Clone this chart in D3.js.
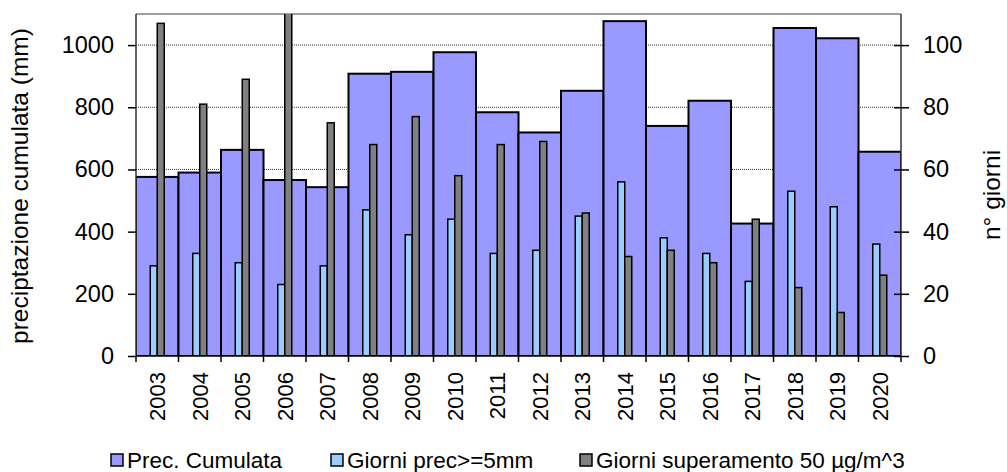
<!DOCTYPE html>
<html>
<head>
<meta charset="utf-8">
<script src="https://cdn.jsdelivr.net/npm/d3@7"></script>
<style>
  body { margin: 0; background: #fff; }
  svg { display: block; font-family: "Liberation Sans", Arial, sans-serif; }
</style>
</head>
<body>
<div id="chart"></div>
<script>
// Data.
const years = ["2003", "2004", "2005", "2006", "2007", "2008", "2009", "2010", "2011",
               "2012", "2013", "2014", "2015", "2016", "2017", "2018", "2019", "2020"];
// precipitazione cumulata (mm), left axis
const precCumulata = [576, 590, 663, 566, 543, 908, 914, 977, 784,
                      719, 853, 1077, 740, 821, 426, 1055, 1022, 657];
// giorni con prec >= 5mm, right axis
const giorniPrec = [29, 33, 30, 23, 29, 47, 39, 44, 33,
                    34, 45, 56, 38, 33, 24, 53, 48, 36];
// giorni superamento 50 ug/m^3, right axis
const giorniSuper = [107, 81, 89, 115, 75, 68, 77, 58, 68,
                     69, 46, 32, 34, 30, 44, 22, 14, 26];

const leftTicks = [0, 200, 400, 600, 800, 1000];
const rightTicks = [0, 20, 40, 60, 80, 100];
const legendLabels = ["Prec. Cumulata", "Giorni prec>=5mm", "Giorni superamento 50 \u00b5g/m^3"];
const colors = ["#9999ff", "#99ccff", "#808080"];

const W = 1007, H = 472;
const plot = { left: 136, right: 901, top: 14, bottom: 356 };
const fsTick = 23.5, fsTitle = 24.5, fsLegend = 22.5, fsYear = 22;

const svg = d3.select("#chart").append("svg")
    .attr("width", W).attr("height", H);

const x = d3.scaleBand().domain(years).range([plot.left, plot.right]).padding(0);
const yL = d3.scaleLinear().domain([0, 1100]).range([plot.bottom, plot.top]);
const yR = d3.scaleLinear().domain([0, 110]).range([plot.bottom, plot.top]);

svg.append("clipPath").attr("id", "clip")
  .append("rect")
    .attr("x", plot.left).attr("y", plot.top)
    .attr("width", plot.right - plot.left).attr("height", plot.bottom - plot.top);

// gridlines (dotted)
svg.append("g").selectAll("line")
  .data(leftTicks.filter(d => d > 0))
  .join("line")
    .attr("x1", plot.left).attr("x2", plot.right)
    .attr("y1", d => yL(d)).attr("y2", d => yL(d))
    .attr("stroke", "#333").attr("stroke-width", 1)
    .attr("stroke-dasharray", "1,1");

// top border of the plot area
svg.append("line")
    .attr("x1", plot.left).attr("x2", plot.right)
    .attr("y1", plot.top).attr("y2", plot.top)
    .attr("stroke", "#a0a0a0").attr("stroke-width", 2);

const bars = svg.append("g").attr("clip-path", "url(#clip)");

// wide bars: precipitazione cumulata
bars.append("g").selectAll("rect")
  .data(precCumulata)
  .join("rect")
    .attr("x", (d, i) => x(years[i]))
    .attr("y", d => yL(d))
    .attr("width", x.bandwidth())
    .attr("height", d => plot.bottom - yL(d))
    .attr("fill", colors[0])
    .attr("stroke", "#000").attr("stroke-width", 2);

// narrow bars on the secondary axis
const barW = 7;
const inner = d3.scaleBand().domain([0, 1]).range([-barW, barW]);

[giorniPrec, giorniSuper].forEach((series, k) => {
  bars.append("g").selectAll("rect")
    .data(series)
    .join("rect")
      .attr("x", (d, i) => x(years[i]) + x.bandwidth() / 2 + inner(k))
      .attr("y", d => yR(d))
      .attr("width", inner.bandwidth())
      .attr("height", d => plot.bottom - yR(d))
      .attr("fill", colors[k + 1])
      .attr("stroke", "#000").attr("stroke-width", 1.5);
});

// left axis
const axL = svg.append("g")
    .attr("transform", `translate(${plot.left},0)`)
    .call(d3.axisLeft(yL).tickValues(leftTicks).tickFormat(d3.format("d"))
      .tickSize(8).tickSizeOuter(0).tickPadding(14));
axL.select(".domain").attr("stroke", "#333").attr("stroke-width", 1.5)
    .attr("d", `M0,${plot.top}V${plot.bottom}`);
axL.selectAll(".tick line").attr("stroke", "#000").attr("stroke-width", 1.5);
axL.selectAll("text").attr("font-size", fsTick).attr("fill", "#000")
    .attr("font-family", "Liberation Sans, Arial, sans-serif");

// right axis
const axR = svg.append("g")
    .attr("transform", `translate(${plot.right},0)`)
    .call(d3.axisRight(yR).tickValues(rightTicks).tickFormat(d3.format("d"))
      .tickSize(8).tickSizeOuter(0).tickPadding(14));
axR.select(".domain").attr("stroke", "#333").attr("stroke-width", 1.5)
    .attr("d", `M0,${plot.top}V${plot.bottom}`);
axR.selectAll(".tick line").attr("x1", -7).attr("stroke", "#000").attr("stroke-width", 1.5);
axR.selectAll("text").attr("font-size", fsTick).attr("fill", "#000")
    .attr("font-family", "Liberation Sans, Arial, sans-serif");

// x axis: ticks on category boundaries, labels rotated
const axX = svg.append("g").attr("transform", `translate(0,${plot.bottom})`);
axX.append("line")
    .attr("x1", plot.left).attr("x2", plot.right)
    .attr("stroke", "#000").attr("stroke-width", 1.5);
axX.selectAll("line.tk")
  .data(years.concat(["end"]))
  .join("line").attr("class", "tk")
    .attr("x1", (d, i) => i < years.length ? x(d) : plot.right)
    .attr("x2", (d, i) => i < years.length ? x(d) : plot.right)
    .attr("y1", 0).attr("y2", 6)
    .attr("stroke", "#000").attr("stroke-width", 1.5);
axX.selectAll("text")
  .data(years)
  .join("text")
    .attr("transform", d => `translate(${x(d) + x.bandwidth() / 2 + 8},16) rotate(-90)`)
    .attr("text-anchor", "end")
    .attr("font-size", fsYear)
    .text(d => d);

// axis titles
svg.append("text")
    .attr("transform", `translate(28,186) rotate(-90)`)
    .attr("text-anchor", "middle")
    .attr("font-size", fsTitle)
    .text("preciptazione cumulata (mm)");
svg.append("text")
    .attr("transform", `translate(1000,195) rotate(-90)`)
    .attr("text-anchor", "middle")
    .attr("font-size", fsTitle)
    .text("n\u00b0 giorni");

// legend
const legendX = [111, 331, 580];
const lg = svg.append("g").selectAll("g")
  .data(legendLabels)
  .join("g")
    .attr("transform", (d, i) => `translate(${legendX[i]},454)`);
lg.append("rect")
    .attr("width", 12).attr("height", 12)
    .attr("fill", (d, i) => colors[i])
    .attr("stroke", "#000").attr("stroke-width", 1.5);
lg.append("text")
    .attr("x", 16).attr("y", 13.5)
    .attr("font-size", fsLegend)
    .text(d => d);
</script>
</body>
</html>
